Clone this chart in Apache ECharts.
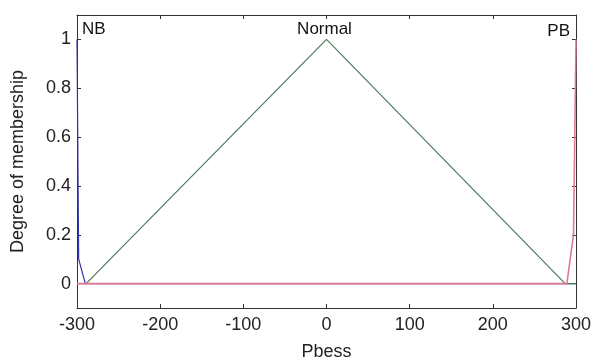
<!DOCTYPE html>
<html>
<head>
<meta charset="utf-8">
<script src="https://cdn.jsdelivr.net/npm/echarts@6/dist/echarts.min.js"></script>
<style>html,body{margin:0;padding:0;background:#fff}#c{width:595px;height:363px}</style>
</head>
<body>
<div id="c"></div>
<script>
// Membership function breakpoints (x = Pbess, y = degree of membership)
const nbX = [-300, -298, -290, 300];
const nbY = [1, 0.1, 0, 0];
const normalX = [-300, -289, 0, 287, 300];
const normalY = [0, 0, 1, 0, 0];
const pbX = [-300, 289, 297, 300];
const pbY = [0, 0, 0.2, 1];

const mfNames = ['NB', 'Normal', 'PB'];
const mfLabelX = [-300, 0, 300];
const mfLabelY = [1.04, 1.04, 1.035];

const xTicks = [-300, -200, -100, 0, 100, 200, 300];
const yTicks = [0, 0.2, 0.4, 0.6, 0.8, 1];

const FONT = '"Liberation Sans", Arial, sans-serif';
const TXT = '#222222';
const AX = '#333333';

function pairs(xs, ys) { return xs.map((x, i) => [x, ys[i]]); }

const chart = echarts.init(document.getElementById('c'), null, {renderer: 'canvas'});
const labelAligns = ['left', 'center', 'right'];
const labelOffsets = [[5, 0], [-2, 0], [-6, 0]];

chart.setOption({
  animation: false,
  backgroundColor: '#ffffff',
  grid: {left: 77, right: 19, top: 15, bottom: 55, containLabel: false, outerBoundsMode: 'none'},
  xAxis: [{
    type: 'value', min: -300, max: 300, interval: 100,
    name: 'Pbess', nameLocation: 'middle', nameGap: 35,
    nameTextStyle: {fontFamily: FONT, fontSize: 18, color: TXT},
    axisLine: {show: true, onZero: false, lineStyle: {color: AX, width: 1}},
    axisTick: {show: true, inside: true, length: 4, lineStyle: {color: AX}},
    axisLabel: {fontFamily: FONT, fontSize: 18, color: TXT, margin: 8, customValues: xTicks},
    splitLine: {show: false}
  }, {
    type: 'value', min: -300, max: 300, interval: 100, position: 'top',
    axisLine: {show: true, onZero: false, lineStyle: {color: AX, width: 1}},
    axisTick: {show: true, inside: true, length: 4, lineStyle: {color: AX}},
    axisLabel: {show: false},
    splitLine: {show: false}
  }],
  yAxis: [{
    type: 'value', min: -0.1, max: 1.1,
    name: 'Degree of membership', nameLocation: 'middle', nameGap: 50,
    nameTextStyle: {fontFamily: FONT, fontSize: 18, color: TXT},
    axisLine: {show: true, onZero: false, lineStyle: {color: AX, width: 1}},
    axisTick: {show: true, inside: true, length: 4, lineStyle: {color: AX}, customValues: yTicks},
    axisLabel: {fontFamily: FONT, fontSize: 18, color: TXT, margin: 6, customValues: yTicks,
      formatter: v => String(v)},
    splitLine: {show: false}
  }, {
    type: 'value', min: -0.1, max: 1.1, position: 'right',
    axisLine: {show: true, onZero: false, lineStyle: {color: AX, width: 1}},
    axisTick: {show: true, inside: true, length: 4, lineStyle: {color: AX}, customValues: yTicks},
    axisLabel: {show: false},
    splitLine: {show: false}
  }],
  series: [
    {type: 'line', name: 'NB', data: pairs(nbX, nbY), symbol: 'none',
      lineStyle: {color: '#3030a8', width: 1.2}, z: 2},
    {type: 'line', name: 'Normal', data: pairs(normalX, normalY), symbol: 'none',
      lineStyle: {color: '#4a7a5a', width: 1.2}, z: 3},
    {type: 'line', name: 'PB', data: pairs(pbX, pbY), symbol: 'none',
      lineStyle: {color: '#e07a8e', width: 1.6}, z: 4},
    {type: 'scatter', symbolSize: 0, z: 5,
      data: mfNames.map((n, i) => ({
        value: [mfLabelX[i], mfLabelY[i]], name: n,
        label: {show: true, position: 'inside', formatter: n, align: labelAligns[i],
          verticalAlign: 'middle', offset: labelOffsets[i], textBorderWidth: 0,
          fontFamily: FONT, fontSize: 17, color: '#111111', opacity: 1}
      }))}
  ]
});
</script>
</body>
</html>
